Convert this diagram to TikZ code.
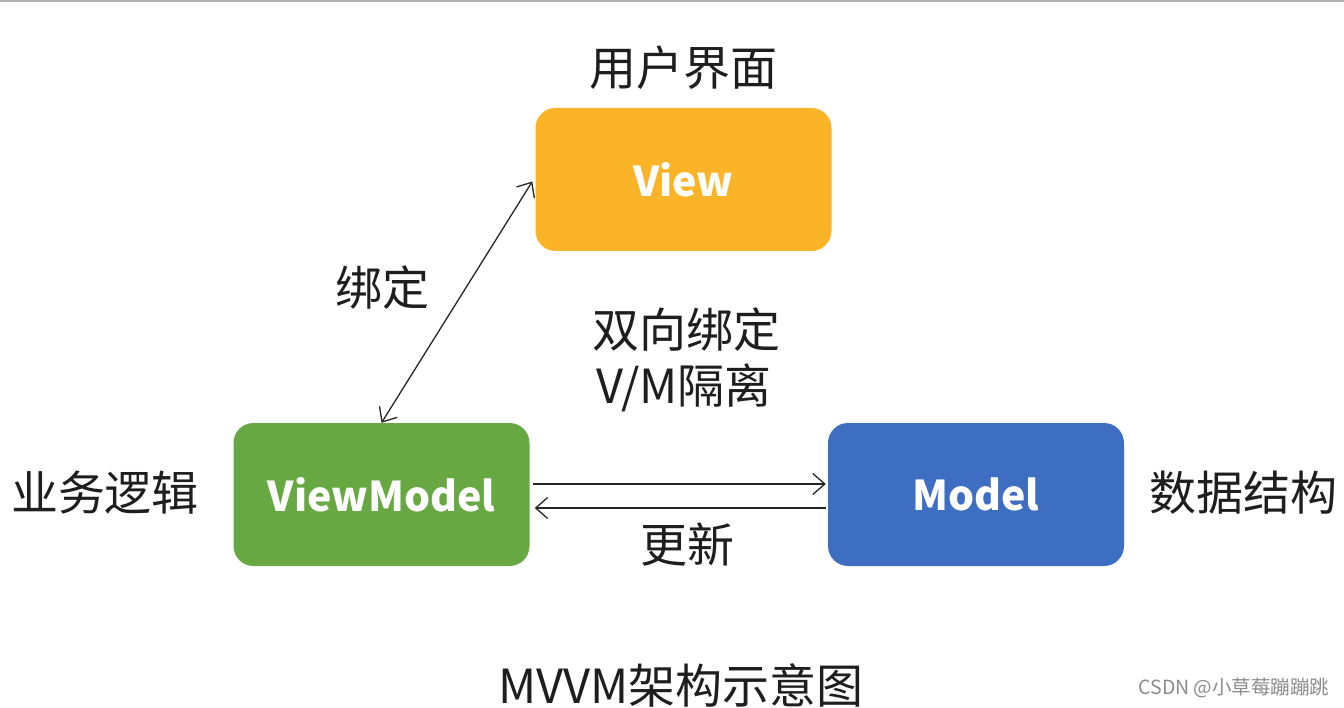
\documentclass[tikz,border=0pt]{standalone}
\usepackage{fontspec}
\setmainfont{Noto Sans CJK SC}
\newfontfamily\cjk{Noto Sans CJK SC}
\usetikzlibrary{arrows.meta}
\definecolor{vieworange}{HTML}{FBB427}
\definecolor{vmgreen}{HTML}{68A843}
\definecolor{modelblue}{HTML}{3E6EC2}
\definecolor{txt}{HTML}{1E1E1E}
\tikzset{
  box/.style={rounded corners=20pt, minimum width=296pt, minimum height=143pt, inner sep=0pt,
    text=white, font=\fontsize{41}{45}\selectfont\bfseries},
  lbl/.style={text=txt, font=\fontsize{47}{54}\selectfont, inner sep=0pt},
  conn/.style={line width=1.3pt, draw=black!85, {Straight Barb[length=12pt,width=21pt,line width=1.3pt]}-{Straight Barb[length=12pt,width=21pt,line width=1.3pt]}},
  oneway/.style={line width=1.3pt, draw=black!85, -{Straight Barb[length=12pt,width=21pt,line width=1.3pt]}}
}
\begin{document}
\begin{tikzpicture}[x=1pt,y=-1pt]
\useasboundingbox (0,0) rectangle (1344,708);
\fill[white] (0,0) rectangle (1344,708);
\draw[line width=2pt, draw=black!30] (0,1) -- (1344,1);
\node[box, fill=vieworange] (view) at (683.5,179.5) {View};
\node[box, fill=vmgreen] (vm) at (381.5,494.5) {ViewModel};
\node[box, fill=modelblue] (model) at (976,494.5) {Model};
\node[lbl] (ui) at (683,68) {用户界面};
\node[lbl] (bind) at (382,288) {绑定};
\node[lbl] (two) at (686,330) {双向绑定};
\node[lbl] (iso) at (684,388) {V/M隔离};
\node[lbl] (biz) at (105,493) {业务逻辑};
\node[lbl] (data) at (1243,493) {数据结构};
\node[lbl] (upd) at (687,545) {更新};
\node[lbl] (title) at (681,685) {MVVM架构示意图};
\node[text=black!45, font=\fontsize{19.5}{22}\selectfont, inner sep=0pt] (wm) at (1234,688) {CSDN @小草莓蹦蹦跳};
\draw[conn] (vm.north) -- ([xshift=-3pt,yshift=-2pt]view.west);
\draw[oneway] ([xshift=3pt,yshift=10.5pt]vm.east) -- ([xshift=-2pt,yshift=10.5pt]model.west);
\draw[oneway] ([xshift=-2pt,yshift=-13.5pt]model.west) -- ([xshift=5pt,yshift=-13.5pt]vm.east);
\end{tikzpicture}
\end{document}
